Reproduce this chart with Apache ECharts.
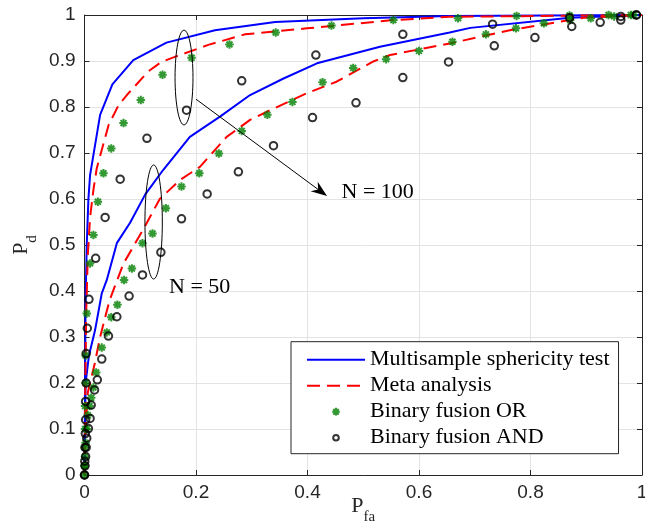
<!DOCTYPE html>
<html><head><meta charset="utf-8">
<script src="https://cdn.jsdelivr.net/npm/echarts/dist/echarts.min.js"></script>
<style>html,body{margin:0;padding:0;background:#fff}#c{width:645px;height:529px}</style>
</head><body><div id="c"></div>
<script>
// ---------- data ----------
const xTicks = [0, 0.2, 0.4, 0.6, 0.8, 1];
const yTicks = [0, 0.1, 0.2, 0.3, 0.4, 0.5, 0.6, 0.7, 0.8, 0.9, 1];

// Multisample sphericity test
const mstN100 = [[0,0],[0.001,0.2],[0.002,0.38],[0.004,0.5],[0.007,0.6],[0.01,0.652],[0.028,0.783],[0.05,0.849],[0.0875,0.902],[0.147,0.94],[0.234,0.967],[0.342,0.985],[0.5,0.993],[0.655,0.998],[1,1]];
const mstN50 = [[0,0],[0.002,0.2],[0.008,0.26],[0.019,0.315],[0.031,0.395],[0.04,0.424],[0.058,0.504],[0.082,0.549],[0.109,0.61],[0.141,0.663],[0.189,0.735],[0.243,0.779],[0.297,0.826],[0.357,0.862],[0.417,0.895],[0.53,0.931],[0.655,0.962],[0.692,0.972],[0.871,0.994],[1,1]];
// Meta analysis
const metaN100 = [[0,0],[0.001,0.15],[0.003,0.35],[0.006,0.48],[0.01,0.56],[0.016,0.62],[0.022,0.667],[0.043,0.76],[0.061,0.804],[0.076,0.826],[0.114,0.877],[0.138,0.898],[0.162,0.909],[0.222,0.935],[0.288,0.958],[0.399,0.971],[0.554,0.989],[0.655,0.996],[1,1]];
const metaN50 = [[0,0],[0.002,0.1],[0.006,0.18],[0.018,0.24],[0.028,0.3],[0.045,0.38],[0.07,0.46],[0.105,0.533],[0.135,0.6],[0.171,0.641],[0.207,0.67],[0.255,0.735],[0.297,0.772],[0.333,0.793],[0.399,0.83],[0.452,0.855],[0.518,0.899],[0.548,0.913],[0.655,0.938],[0.763,0.967],[0.895,0.994],[1,1]];
// Binary fusion OR
const orN100 = [[0,0.02],[0.0005,0.06],[0.001,0.1],[0.001,0.15],[0.002,0.2],[0.002,0.26],[0.004,0.351],[0.01,0.46],[0.016,0.522],[0.024,0.594],[0.034,0.656],[0.048,0.71],[0.07,0.765],[0.101,0.815],[0.14,0.87],[0.192,0.907],[0.26,0.936],[0.343,0.962],[0.443,0.977],[0.554,0.989],[0.67,0.993],[0.775,0.998],[0.87,0.999],[0.94,1],[0.98,1]];
const orN50 = [[0,0],[0.0005,0.02],[0.001,0.04],[0.002,0.07],[0.004,0.1],[0.006,0.13],[0.009,0.15],[0.012,0.168],[0.016,0.19],[0.021,0.223],[0.031,0.277],[0.04,0.31],[0.048,0.343],[0.059,0.37],[0.071,0.424],[0.085,0.449],[0.104,0.504],[0.122,0.525],[0.146,0.58],[0.174,0.627],[0.206,0.656],[0.241,0.699],[0.282,0.748],[0.328,0.783],[0.373,0.811],[0.427,0.854],[0.482,0.885],[0.541,0.904],[0.6,0.922],[0.66,0.942],[0.72,0.958],[0.774,0.971],[0.824,0.982],[0.871,0.989],[0.908,0.993],[0.95,0.997],[0.985,1]];
// Binary fusion AND
const andN100 = [[0,0],[0.0005,0.03],[0.001,0.06],[0.0015,0.09],[0.002,0.12],[0.002,0.16],[0.003,0.2],[0.003,0.264],[0.005,0.319],[0.008,0.382],[0.02,0.471],[0.037,0.56],[0.064,0.643],[0.112,0.732],[0.183,0.793],[0.282,0.857],[0.415,0.913],[0.571,0.958],[0.732,0.98],[0.87,0.994],[0.962,0.997],[0.99,1]];
const andN50 = [[0,0],[0.001,0.02],[0.002,0.04],[0.003,0.06],[0.004,0.08],[0.007,0.101],[0.01,0.123],[0.012,0.152],[0.018,0.185],[0.023,0.207],[0.031,0.252],[0.043,0.302],[0.058,0.344],[0.08,0.389],[0.104,0.435],[0.137,0.484],[0.174,0.557],[0.22,0.611],[0.276,0.659],[0.339,0.716],[0.409,0.777],[0.487,0.809],[0.571,0.864],[0.653,0.898],[0.735,0.933],[0.808,0.951],[0.874,0.975],[0.925,0.984],[0.962,0.989],[0.99,1]];

const names = ['Multisample sphericity test', 'Meta analysis', 'Binary fusion OR', 'Binary fusion AND'];

// annotations in data units
const ellipse100 = {x:0.1785, y:0.864, rx:0.0161, ry:0.103};
const ellipse50  = {x:0.124, y:0.55, rx:0.0156, ry:0.124};
const arrowFrom = [0.2, 0.817], arrowTo = [0.435, 0.6065];
const label100 = {text:'N = 100', x:0.461, y:0.615};
const label50  = {text:'N = 50', x:0.1516, y:0.409};

// ---------- chart ----------
const AX = '#262626', GRID = '#e3e3e3';
const SERIF = 'Liberation Serif', SANS = 'Liberation Sans';
const starSym = 'path://M0,5L10,5M5,0L5,10M1.5,1.5L8.5,8.5M8.5,1.5L1.5,8.5';
const starIcon = 'path://M0,0M20,20M4.5,10L15.5,10M10,4.5L10,15.5M6.1,6.1L13.9,13.9M13.9,6.1L6.1,13.9';
const circIcon = 'path://M0,0M20,20M14,10A4,4,0,1,1,6,10A4,4,0,1,1,14,10Z';

const chart = echarts.init(document.getElementById('c'), null, {renderer:'canvas'});

function axisCommon(extra){
  return Object.assign({
    type:'value', min:0, max:1,
    axisLine:{show:true, onZero:false, lineStyle:{color:AX, width:1}},
    axisTick:{show:true, inside:true, length:5, lineStyle:{color:AX, width:1}},
    splitLine:{show:false},
  }, extra);
}

const lineSeries = (name, data, color, dashed) => ({
  type:'line', name, data, symbol:'none', showSymbol:false, smooth:false,
  lineStyle:{color, width:2, type: dashed ? [13,7] : 'solid'},
  itemStyle:{color}, z:2, animation:false
});
const starSeries = (data) => ({
  type:'scatter', name:names[2], data, symbol:starSym, symbolSize:8.5,
  itemStyle:{color:'#008000', borderColor:'#008000', borderWidth:2}, z:3, animation:false
});
const circSeries = (data) => ({
  type:'scatter', name:names[3], data, symbol:'circle', symbolSize:7.5,
  itemStyle:{color:'rgba(0,0,0,0)', borderColor:'#000', borderWidth:2}, z:4, animation:false
});

chart.setOption({
  animation:false,
  backgroundColor:'#fff',
  grid:{left:84.5, right:3, top:15, bottom:54, containLabel:false, outerBoundsMode:'none'},
  xAxis:[
    axisCommon({position:'bottom', interval:0.2,
      axisLabel:{show:true, fontFamily:SANS, fontSize:19, color:AX, margin:8},
      splitLine:{show:true, lineStyle:{color:GRID, width:1}},
      name:'P{s|fa}', nameLocation:'middle', nameGap:12.5, nameMoveOverlap:false,
      nameTextStyle:{fontFamily:SERIF, fontSize:22, color:AX,
        rich:{s:{fontFamily:SERIF, fontSize:15, color:AX, padding:[22,0,0,0]}}}
    }),
    axisCommon({position:'top', interval:0.2, axisLabel:{show:false}})
  ],
  yAxis:[
    axisCommon({position:'left', interval:0.1,
      axisLabel:{show:true, fontFamily:SANS, fontSize:19, color:AX, margin:9},
      splitLine:{show:true, lineStyle:{color:GRID, width:1}},
      name:'P{s|d}', nameLocation:'middle', nameGap:44.5, nameRotate:90, nameMoveOverlap:false,
      nameTextStyle:{fontFamily:SERIF, fontSize:22, color:AX,
        rich:{s:{fontFamily:SERIF, fontSize:15, color:AX, padding:[22,0,0,0]}}}
    }),
    axisCommon({position:'right', interval:0.1, axisLabel:{show:false}})
  ],
  legend:{
    data:[
      {name:names[0], itemStyle:{opacity:0}},
      {name:names[1], itemStyle:{opacity:0}},
      {name:names[2], icon:starIcon},
      {name:names[3], icon:circIcon}
    ],
    orient:'vertical', left:291, top:341.7,
    padding:[7,9,5,15], itemWidth:58, itemHeight:14, itemGap:4,
    textStyle:{fontFamily:SERIF, fontSize:22, color:'#000', lineHeight:20, height:20},
    borderColor:AX, borderWidth:1, borderRadius:0, backgroundColor:'#fff',
    selectedMode:false, z:10
  },
  series:[
    lineSeries(names[0], mstN100, '#0000ff', false),
    lineSeries(names[0], mstN50, '#0000ff', false),
    lineSeries(names[1], metaN100, '#ff0000', true),
    lineSeries(names[1], metaN50, '#ff0000', true),
    starSeries(orN100), starSeries(orN50),
    circSeries(andN100), circSeries(andN50)
  ]
});

// ---------- annotations (positioned from data units) ----------
function px(p){ return chart.convertToPixel({xAxisIndex:0, yAxisIndex:0}, p); }
function ellipseG(e){
  const c = px([e.x, e.y]);
  const r = px([e.x + e.rx, e.y + e.ry]);
  return {type:'ellipse', z:20, shape:{cx:c[0], cy:c[1], rx:Math.abs(r[0]-c[0]), ry:Math.abs(c[1]-r[1])},
    style:{fill:'none', stroke:'#000', lineWidth:1}};
}
const a0 = px(arrowFrom), a1 = px(arrowTo);
const dx = a1[0]-a0[0], dy = a1[1]-a0[1], L = Math.hypot(dx,dy), ux = dx/L, uy = dy/L;
const hl = 16, hw = 6, back = 11;
const base = [a1[0]-ux*hl, a1[1]-uy*hl];
const notch = [a1[0]-ux*back, a1[1]-uy*back];
const head = [a1, [base[0]-uy*hw, base[1]+ux*hw], notch, [base[0]+uy*hw, base[1]-ux*hw]];
const t100 = px([label100.x, label100.y]), t50 = px([label50.x, label50.y]);
chart.setOption({graphic:[
  ellipseG(ellipse100), ellipseG(ellipse50),
  {type:'line', z:20, shape:{x1:a0[0], y1:a0[1], x2:notch[0], y2:notch[1]}, style:{stroke:'#000', lineWidth:1}},
  {type:'polygon', z:20, shape:{points:head}, style:{fill:'#000'}},
  {type:'text', z:20, x:t100[0], y:t100[1], style:{text:label100.text, font:'22px "Liberation Serif"', fill:'#000', verticalAlign:'middle', align:'left'}},
  {type:'text', z:20, x:t50[0], y:t50[1], style:{text:label50.text, font:'22px "Liberation Serif"', fill:'#000', verticalAlign:'middle', align:'left'}}
]});
</script>
</body></html>
